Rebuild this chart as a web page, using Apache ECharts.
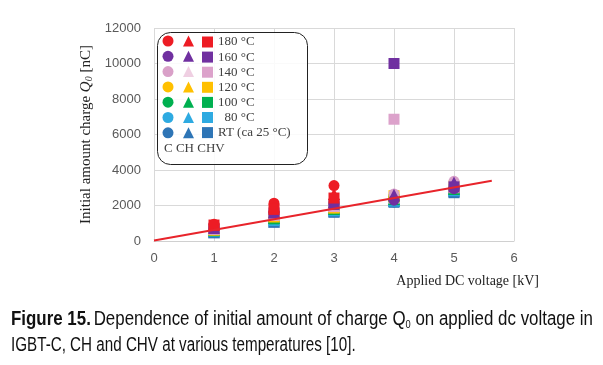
<!DOCTYPE html>
<html><head><meta charset="utf-8">
<script src="https://cdn.jsdelivr.net/npm/echarts@6/dist/echarts.min.js"></script>
<style>html,body{margin:0;padding:0;background:#fff}#c{width:603px;height:365px}</style>
</head><body><div id="c"></div>
<script>
const voltages = [1, 2, 3, 4, 5];
const temps = ['180 °C', '160 °C', '140 °C', '120 °C', '100 °C', '  80 °C', 'RT (ca 25 °C)'];
// values [nC] at voltages 1..5 for C, CH, CHV
const t180_C   = [950, 2130, 3120, null, null];
const t180_CH  = [920, 1950, 2650, null, null];
const t180_CHV = [900, 1780, 2420, null, null];
const t160_C   = [720, 1600, 2080, 2300, 2950];
const t160_CH  = [740, 1620, 2200, 2600, 3300];
const t160_CHV = [700, 1580, 2060, 10000, 3050];
const t140_C   = [680, 1480, 1960, 2650, 3360];
const t140_CH  = [700, 1500, 1980, 2450, 3100];
const t140_CHV = [660, 1450, 1940, 6860, 3000];
const t120_C   = [630, 1380, 1880, 2450, 3000];
const t120_CH  = [650, 1400, 1900, 2500, 3050];
const t120_CHV = [620, 1360, 1860, 2550, 3100];
const t100_C   = [590, 1280, 1800, 2350, 2900];
const t100_CH  = [600, 1300, 1820, 2380, 2950];
const t100_CHV = [580, 1250, 1780, 2330, 2900];
const t80_C    = [540, 1180, 1720, 2280, 2850];
const t80_CH   = [560, 1200, 1750, 2300, 2880];
const t80_CHV  = [530, 1150, 1700, 2250, 2830];
const tRT_C    = [480, 1080, 1650, 2200, 2750];
const tRT_CH   = [500, 1100, 1680, 2250, 2800];
const tRT_CHV  = [470, 1060, 1620, 2180, 2720];
const fitX = [0, 5.63];
const fitY = [30, 3390];
const yTicks = [0, 2000, 4000, 6000, 8000, 10000, 12000];
const xTicks = [0, 1, 2, 3, 4, 5, 6];

const groups = [
  {name: 'RT (ca 25 °C)', c: ['#2e75b6', '#2e75b6', '#2e75b6'], d: [tRT_C, tRT_CH, tRT_CHV]},
  {name: '  80 °C', c: ['#2eaae1', '#2eaae1', '#2eaae1'], d: [t80_C, t80_CH, t80_CHV]},
  {name: '100 °C', c: ['#00b050', '#00b050', '#00b050'], d: [t100_C, t100_CH, t100_CHV]},
  {name: '120 °C', c: ['#ffc000', '#ffc000', '#ffc000'], d: [t120_C, t120_CH, t120_CHV]},
  {name: '140 °C', c: ['#d9a0c8', '#efcfe2', '#dca2cb'], d: [t140_C, t140_CH, t140_CHV]},
  {name: '160 °C', c: ['#7030a0', '#7030a0', '#7030a0'], d: [t160_C, t160_CH, t160_CHV]},
  {name: '180 °C', c: ['#ed1c24', '#ed1c24', '#ed1c24'], d: [t180_C, t180_CH, t180_CHV]}
];
const types = ['C', 'CH', 'CHV'];
const symbols = ['circle', 'triangle', 'rect'];
const sizes = [11, 12, 11];

const series = [];
groups.forEach(g => {
  types.forEach((t, i) => {
    series.push({
      type: 'scatter', name: g.name + '|' + t,
      symbol: symbols[i], symbolSize: sizes[i],
      itemStyle: {color: g.c[i], opacity: 1},
      data: voltages.map((v, k) => g.d[i][k] == null ? null : [v, g.d[i][k]]).filter(p => p),
      z: 3
    });
  });
});
series.push({
  type: 'line', name: 'fit', data: fitX.map((x, i) => [x, fitY[i]]),
  symbol: 'none', lineStyle: {color: '#e8242b', width: 2}, z: 5, silent: true
});

const legendOrder = temps;
function mkLegend(i, left, showText) {
  return {
    orient: 'vertical', left: left, top: 35.5, itemGap: showText ? 2.1 : 4.3, padding: 0,
    itemWidth: 11, itemHeight: 11, icon: symbols[i], selectedMode: false,
    data: legendOrder.map(n => n + '|' + types[i]),
    formatter: showText ? (n => n.split('|')[0]) : (n => ''),
    textStyle: {fontFamily: 'Liberation Serif', fontSize: 13, color: '#404040'}
  };
}

const chart = echarts.init(document.getElementById('c'));
chart.setOption({
  animation: false,
  grid: {left: 154, right: 89, top: 28, bottom: 124},
  xAxis: {
    type: 'value', min: 0, max: 6, interval: 1,
    name: 'Applied DC voltage [kV]', nameLocation: 'end',
    nameTextStyle: {fontFamily: 'Liberation Serif', fontSize: 14, color: '#222', align: 'right', verticalAlign: 'top', padding: [33, 0, 0, 0]},
    nameGap: 25,
    axisLine: {show: true, lineStyle: {color: '#d0d0d0'}},
    axisTick: {show: false},
    splitLine: {show: true, lineStyle: {color: '#d9d9d9'}},
    axisLabel: {fontFamily: 'Liberation Sans', fontSize: 13, color: '#595959', margin: 11,
      formatter: v => xTicks.includes(v) ? String(v) : ''}
  },
  yAxis: {
    type: 'value', min: 0, max: 12000, interval: 2000,
    name: 'Initial amount charge {i|Q}{s|0} [nC]', nameLocation: 'middle', nameGap: 59,
    nameTextStyle: {fontFamily: 'Liberation Serif', fontSize: 15, color: '#222',
      rich: {i: {fontFamily: 'Liberation Serif', fontStyle: 'italic', fontSize: 15, color: '#222'},
             s: {fontFamily: 'Liberation Serif', fontStyle: 'italic', fontSize: 10, color: '#222', verticalAlign: 'bottom', padding: [6, 0, 0, 0]}}},
    axisLine: {show: false}, axisTick: {show: false},
    splitLine: {show: true, lineStyle: {color: '#d9d9d9'}},
    axisLabel: {fontFamily: 'Liberation Sans', fontSize: 13, color: '#595959', margin: 13,
      formatter: v => yTicks.includes(v) ? String(v) : ''}
  },
  legend: [mkLegend(0, 162.5, false), mkLegend(1, 183, false), mkLegend(2, 202, true)],
  graphic: [
    {type: 'rect', left: 157, top: 32, shape: {width: 150, height: 132, r: 13},
     style: {fill: 'rgba(255,255,255,0.85)', stroke: '#222', lineWidth: 1}, z: 1},
    {type: 'text', left: 164, top: 142, style: {text: 'C CH CHV', font: '13px "Liberation Serif"', fill: '#404040'}, z: 10},
    {type: 'text', x: 11, y: 309, scaleX: 0.845, style: {
      text: '{b|Figure 15.} {n|Dependence of initial amount of charge Q}{s|0}{n| on applied dc voltage in}',
      rich: {b: {font: 'bold 20px "Liberation Sans"', fill: '#111'},
             n: {font: '20px "Liberation Sans"', fill: '#111'},
             s: {font: '11px "Liberation Sans"', fill: '#111', padding: [10, 0, 0, 0]}}}},
    {type: 'text', x: 11, y: 335, scaleX: 0.76, style: {
      text: 'IGBT-C, CH and CHV at various temperatures [10].',
      font: '20px "Liberation Sans"', fill: '#111'}}
  ],
  series: series
});
</script></body></html>
